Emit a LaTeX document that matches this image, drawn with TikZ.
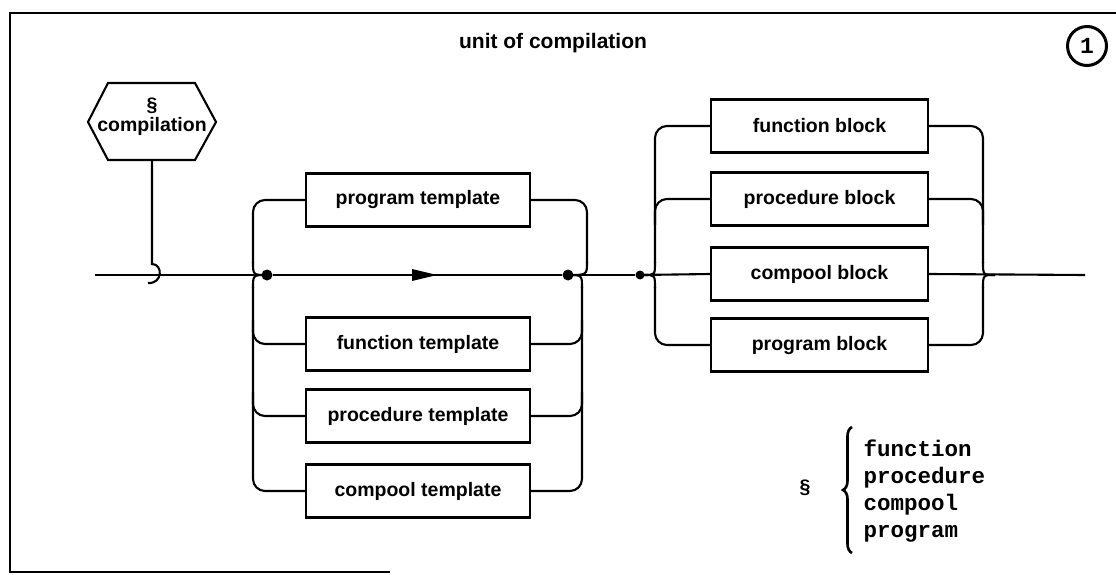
\documentclass[tikz,border=0pt]{standalone}
\usepackage{fontspec}
\setmainfont{Liberation Sans}
\newfontfamily\monof{Liberation Mono}
\usetikzlibrary{decorations.pathreplacing}
\tikzset{
  ln/.style={line width=2.1pt},
  boxn/.style={draw, line width=2.1pt, minimum width=224pt, minimum height=53pt, inner sep=0pt,
     font=\bfseries\fontsize{19.5}{22}\selectfont},
  rbox/.style={boxn, minimum width=217pt},
  rc/.style={ln, rounded corners=12pt},
  jdot/.style={circle, fill=black, inner sep=0pt, minimum size=11pt},
  lbl/.style={font=\bfseries\fontsize{19.5}{22}\selectfont}
}
\begin{document}
\begin{tikzpicture}[x=1pt,y=-1pt]
\useasboundingbox (0,0) rectangle (1116,575);
% frame
\draw[line width=2.6pt] (1116,13) -- (10,13) -- (10,572) -- (390,572);
% title and number
\node[lbl, font=\bfseries\fontsize{21}{24}\selectfont] (title) at (553,43) {unit of compilation};
\node[draw, circle, line width=3pt, minimum size=39pt, inner sep=0pt, font=\monof\bfseries\fontsize{23}{23}\selectfont] (num) at (1087,46) {1};
% hexagon
\node[lbl, align=center] (hex) at (152,117) {\S\\[-2pt]compilation};
\draw[ln] (88,122) -- (108,83) -- (195,83) -- (216,122) -- (195,160) -- (108,160) -- cycle;
\coordinate (hexb) at (152,160);
% template boxes
\node[boxn] (pt) at (418,200) {program template};
\node[boxn] (ft) at (418,344) {function template};
\node[boxn] (prt) at (418,416) {procedure template};
\node[boxn] (ct) at (418,491) {compool template};
% block boxes
\node[rbox] (fb) at (819.5,126) {function block};
\node[rbox] (pb) at (819.5,199) {procedure block};
\node[rbox] (cb) at (819.5,274) {compool block};
\node[rbox] (gb) at (819.5,345) {program block};
% junctions
\node[jdot] (ldot) at (267,275) {};
\node[jdot] (rdot) at (568,275) {};
\node[jdot, minimum size=9pt] (gdot) at (640,275) {};
\coordinate (start) at (95,275);
\coordinate (finish) at (1085,275);
% main line
\draw[ln] (start) -- (ldot);
\draw[ln] (ldot) -- (rdot);
\draw[ln] (rdot) -- (gdot);
\draw[ln] (gdot) -- (cb.west);
\draw[ln] (cb.east) -- (finish);
\fill (412,269) -- (437,275) -- (412,281) -- cycle;
% entry hook
\draw[ln] (hexb) -- (152,264) .. controls (163,264) and (163,284) .. (148,283);
% template group left
\draw[rc] (pt.west) -- (253,200) -- (253,263);
\draw[ln] (253,262) .. controls (253,275) .. (ldot.center);
\draw[rc] (ct.west) -- (253,491) -- (253,287);
\draw[ln] (253,288) .. controls (253,275) .. (ldot.center);
\draw[rc] (ft.west) -- (253,344) -- (253,320);
\draw[rc] (prt.west) -- (253,416) -- (253,392);
% template group right
\draw[rc] (pt.east) -- (587,200) -- (587,263);
\draw[ln] (587,262) .. controls (587,275) .. (rdot.center);
\draw[rc] (ct.east) -- (582,491) -- (582,287);
\draw[ln] (582,288) .. controls (582,275) .. (rdot.center);
\draw[rc] (ft.east) -- (582,344) -- (582,320);
\draw[rc] (prt.east) -- (582,416) -- (582,392);
% block group left
\draw[rc] (fb.west) -- (655,126) -- (655,263);
\draw[ln] (655,262) .. controls (655,275) .. (644,275);
\draw[rc] (gb.west) -- (655,345) -- (655,287);
\draw[ln] (655,288) .. controls (655,275) .. (644,275);
\draw[rc] (pb.west) -- (655,199) -- (655,225);
% block group right
\draw[rc] (fb.east) -- (983,126) -- (983,263);
\draw[ln] (983,262) .. controls (983,275) .. (995,275);
\draw[rc] (gb.east) -- (983,345) -- (983,287);
\draw[ln] (983,288) .. controls (983,275) .. (995,275);
\draw[rc] (pb.east) -- (983,199) -- (983,225);
% legend
\node[lbl] (sect) at (805,488) {\S};
\draw[line width=2.6pt, decorate, decoration={brace, amplitude=9pt}] (852,553) -- (852,427);
\node[anchor=west, align=left, font=\monof\bfseries\fontsize{22.5}{27}\selectfont] (kw) at (860,491) {function\\procedure\\compool\\program};
\end{tikzpicture}
\end{document}
